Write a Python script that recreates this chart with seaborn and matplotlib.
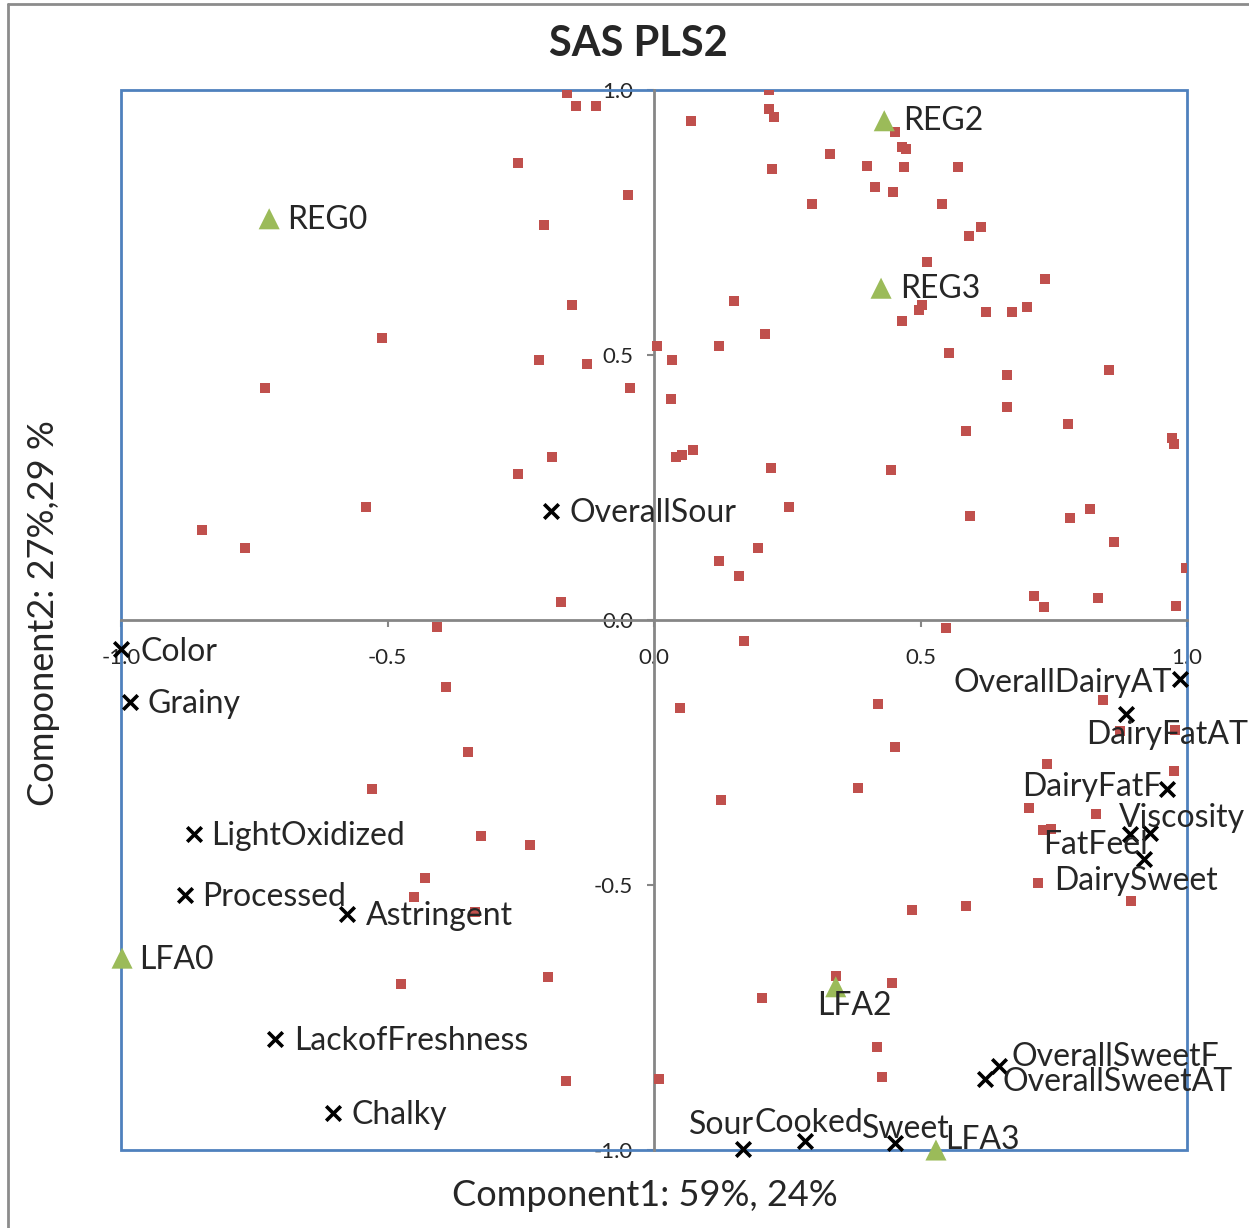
import matplotlib
matplotlib.use("Agg")
import matplotlib.pyplot as plt
import pandas as pd
import seaborn as sns
from matplotlib.lines import Line2D
from matplotlib.patches import Rectangle

# observation scores (red squares)
obs_x = [-0.163, -0.146, -0.109, -0.255, -0.049, -0.206, -0.154, -0.510, -0.216, -0.126,
         -0.730, -0.045, -0.191, -0.255, -0.540, -0.848, -0.767, -0.174,
         0.216, 0.069, 0.216, 0.225, 0.452, 0.465, 0.473, 0.330, 0.400, 0.469, 0.570, 0.221,
         0.415, 0.448, 0.296, 0.540, 0.613, 0.591, 0.512, 0.734, 0.503, 0.497, 0.150, 0.623,
         0.672, 0.700, 0.465, 0.208, 0.006, 0.122, 0.553, 0.034, 0.854, 0.662, 0.032, 0.662,
         0.777, 0.585, 0.972, 0.976, 0.041, 0.053, 0.073, 0.220, 0.445, 0.253, 0.593, 0.780,
         0.818, 0.863, 0.195, 0.122, 0.159, 0.998, 0.713, 0.732, 0.833, 0.979,
         0.548, -0.407, -0.390, -0.349, -0.529, -0.325, -0.233, -0.430, -0.450, -0.336,
         -0.199, -0.475, -0.165, 0.009, 0.169, 0.049, 0.420, 0.842, 0.874, 0.977, 0.452,
         0.737, 0.976, 0.383, 0.126, 0.704, 0.829, 0.730, 0.745, 0.720, 0.895, 0.484, 0.585,
         0.341, 0.447, 0.203, 0.418, 0.428]
obs_y = [0.994, 0.970, 0.970, 0.862, 0.802, 0.745, 0.594, 0.532, 0.491, 0.483,
         0.438, 0.438, 0.308, 0.275, 0.213, 0.170, 0.136, 0.034,
         1.000, 0.942, 0.964, 0.949, 0.921, 0.892, 0.889, 0.879, 0.857, 0.855, 0.855, 0.851,
         0.817, 0.808, 0.785, 0.785, 0.742, 0.725, 0.675, 0.643, 0.594, 0.585, 0.602, 0.581,
         0.581, 0.591, 0.564, 0.540, 0.517, 0.517, 0.504, 0.491, 0.472, 0.462, 0.417, 0.402,
         0.370, 0.357, 0.343, 0.332, 0.308, 0.311, 0.321, 0.287, 0.283, 0.213, 0.196, 0.192,
         0.209, 0.147, 0.136, 0.111, 0.083, 0.098, 0.045, 0.025, 0.042, 0.026,
         -0.015, -0.013, -0.126, -0.249, -0.319, -0.408, -0.425, -0.487, -0.523, -0.551,
         -0.674, -0.687, -0.870, -0.866, -0.040, -0.166, -0.158, -0.151, -0.209, -0.208, -0.240,
         -0.272, -0.285, -0.317, -0.340, -0.355, -0.366, -0.396, -0.394, -0.496, -0.530, -0.547,
         -0.540, -0.672, -0.685, -0.713, -0.806, -0.862]

# response groups (green triangles)
grp_names = ["REG0", "REG2", "REG3", "LFA0", "LFA2", "LFA3"]
grp_x = [-0.722, 0.432, 0.426, -0.998, 0.341, 0.529]
grp_y = [0.757, 0.942, 0.626, -0.638, -0.692, -1.000]

# sensory attributes (black crosses)
attr_names = ["OverallSour", "Color", "Grainy", "LightOxidized", "Processed", "Astringent",
              "LackofFreshness", "Chalky", "OverallDairyAT", "DairyFatAT", "DairyFatF",
              "Viscosity", "FatFeel", "DairySweet", "OverallSweetF", "OverallSweetAT",
              "Sour", "Cooked", "Sweet"]
attr_x = [-0.193, -1.000, -0.983, -0.863, -0.880, -0.576, -0.711, -0.602, 0.987, 0.886,
          0.962, 0.931, 0.893, 0.919, 0.647, 0.621, 0.167, 0.283, 0.452]
attr_y = [0.206, -0.055, -0.155, -0.404, -0.519, -0.555, -0.791, -0.930, -0.111, -0.177,
          -0.319, -0.402, -0.404, -0.451, -0.842, -0.866, -0.998, -0.983, -0.987]

# label placement (pixel offsets from marker, horizontal alignment)
grp_offsets = [(18, -1, "left"), (19, 0, "left"), (19, -1, "left"),
               (17, -2, "left"), (19, -19, "center"), (9, 10, "left")]
attr_offsets = [(18, -2, "left"), (19, -3, "left"), (17, -2, "left"), (17, -2, "left"),
                (17, -2, "left"), (19, -2, "left"), (19, -2, "left"), (18, -2, "left"),
                (-8, -4, "right"), (-40, -21, "left"), (-5, 2, "right"), (-31, 15, "left"),
                (-87, -11, "left"), (-90, -22, "left"), (13, 9, "left"), (18, -3, "left"),
                (-54, 24, "left"), (-50, 18, "left"), (-33, 14, "left")]

obs = pd.DataFrame({"x": obs_x, "y": obs_y})
grp = pd.DataFrame({"x": grp_x, "y": grp_y, "name": grp_names})
attr = pd.DataFrame({"x": attr_x, "y": attr_y, "name": attr_names})

sns.set_theme(style="white")
plt.rcParams["font.family"] = ["Lato", "DejaVu Sans"]

fig = plt.figure(figsize=(12.49, 12.28), dpi=100)
ax = fig.add_axes([121 / 1249, 78 / 1228, 1066 / 1249, 1060 / 1228])

sns.scatterplot(data=obs, x="x", y="y", ax=ax, marker="s", s=52,
                color="#C0504D", edgecolor="none", zorder=3)
sns.scatterplot(data=grp, x="x", y="y", ax=ax, marker="^", s=230,
                color="#9BBB59", edgecolor="none", zorder=4, clip_on=False)
sns.scatterplot(data=attr, x="x", y="y", ax=ax, marker="x", s=110,
                color="black", linewidth=2.6, zorder=4, clip_on=False)

for name, x, y, (dx, dy, ha) in zip(grp_names, grp_x, grp_y, grp_offsets):
    ax.annotate(name, (x, y), xytext=(dx, dy), textcoords="offset pixels",
                ha=ha, va="center", fontsize=23, zorder=5, annotation_clip=False)
for name, x, y, (dx, dy, ha) in zip(attr_names, attr_x, attr_y, attr_offsets):
    ax.annotate(name, (x, y), xytext=(dx, dy), textcoords="offset pixels",
                ha=ha, va="center", fontsize=23, zorder=5, annotation_clip=False)

ax.set_xlim(-1, 1)
ax.set_ylim(-1, 1)
ax.set_xticks([-1.0, -0.5, 0.0, 0.5, 1.0])
ax.set_yticks([-1.0, -0.5, 0.0, 0.5, 1.0])
ax.set_xticklabels(["-1.0", "-0.5", "0.0", "0.5", "1.0"])
ax.set_yticklabels(["-1.0", "-0.5", "0.0", "0.5", "1.0"])
ax.set_xlabel("")
ax.set_ylabel("")

# crosshair axes through the origin
for side in ["left", "bottom"]:
    ax.spines[side].set_position(("data", 0))
    ax.spines[side].set_color("#868686")
    ax.spines[side].set_linewidth(2)
    ax.spines[side].set_zorder(2)
for side in ["top", "right"]:
    ax.spines[side].set_visible(False)
ax.tick_params(axis="x", direction="out", length=5, width=1.5, color="#868686",
               pad=15, labelsize=16, bottom=True)
ax.tick_params(axis="y", direction="out", length=5, width=1.5, color="#868686",
               pad=10, labelsize=16, left=True)

# plot area frame
ax.add_patch(Rectangle((0, 0), 1, 1, transform=ax.transAxes, fill=False,
                       edgecolor="#4F81BD", linewidth=2, clip_on=False, zorder=1))

# chart area border
fig.add_artist(Line2D([7.5 / 1249, 1], [1 - 4 / 1228, 1 - 4 / 1228], color="#8C8C8C", lw=2))
fig.add_artist(Line2D([7.5 / 1249, 7.5 / 1249], [0, 1 - 4 / 1228], color="#8C8C8C", lw=2))

fig.text(638 / 1249, 1 - 44 / 1228, "SAS PLS2", ha="center", va="center",
         fontsize=30, fontweight="bold")
fig.text(645 / 1249, 1 - 1195 / 1228, "Component1: 59%, 24%", ha="center", va="center",
         fontsize=26)
fig.text(44 / 1249, 1 - 613 / 1228, "Component2: 27%,29 %", ha="center", va="center",
         fontsize=26, rotation=90)

fig.savefig("out.png", dpi=100)
